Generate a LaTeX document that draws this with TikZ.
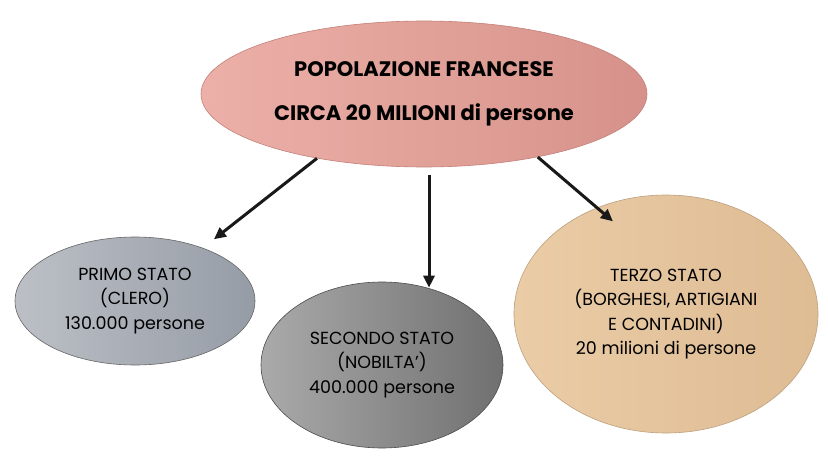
\documentclass[tikz,border=0pt]{standalone}
\usepackage{fontspec}
\setmainfont{Poppins}
\usetikzlibrary{shapes.geometric,arrows.meta}

\definecolor{popleft}{RGB}{236,176,168}
\definecolor{popright}{RGB}{214,146,138}
\definecolor{popedge}{RGB}{196,128,120}
\definecolor{primoleft}{RGB}{188,192,198}
\definecolor{primoright}{RGB}{150,156,166}
\definecolor{secondoleft}{RGB}{170,170,170}
\definecolor{secondoright}{RGB}{112,112,112}
\definecolor{terzoleft}{RGB}{234,204,166}
\definecolor{terzoright}{RGB}{222,188,148}

\begin{document}
\begin{tikzpicture}[x=1pt,y=-1pt,
    stato/.style={ellipse, inner sep=0pt, align=center, line width=0.6pt,
        font=\fontsize{17.5}{24.5}\selectfont, text=black},
    freccia/.style={-{Triangle[length=12pt,width=11pt]}, line width=3pt, black!90}]
    \fill[white] (0,0) rectangle (828,466);
    \useasboundingbox (0,0) rectangle (828,466);

    \node[stato, draw=popedge, left color=popleft, right color=popright,
        minimum width=446pt, minimum height=146pt,
        font=\fontsize{21}{44}\selectfont\bfseries] (pop) at (424,94)
        {POPOLAZIONE FRANCESE\\CIRCA 20 MILIONI di persone};

    \node[stato, draw=gray!80!black, left color=primoleft, right color=primoright,
        minimum width=240pt, minimum height=128pt] (primo) at (135,301)
        {PRIMO STATO\\(CLERO)\\130.000 persone};

    \node[stato, draw=black!70, left color=secondoleft, right color=secondoright,
        minimum width=242pt, minimum height=166pt] (secondo) at (382,365)
        {SECONDO STATO\\(NOBILTA’)\\400.000 persone};

    \node[stato, draw=terzoright!85!black, left color=terzoleft, right color=terzoright,
        minimum width=304pt, minimum height=238pt] (terzo) at (666,314)
        {TERZO STATO\\(BORGHESI, ARTIGIANI\\E CONTADINI)\\20 milioni di persone};

    \draw[freccia, shorten >=14pt] (pop.211) -- (primo.38);
    \draw[freccia, shorten >=2pt] ([xshift=5pt,yshift=-8pt]pop.south) -- ([xshift=5pt,yshift=-8pt]pop.south |- secondo.north); %straight down
    \draw[freccia, shorten >=-21pt] (pop.331) -- (terzo.123); %tip ends inside the ellipse
\end{tikzpicture}
\end{document}
